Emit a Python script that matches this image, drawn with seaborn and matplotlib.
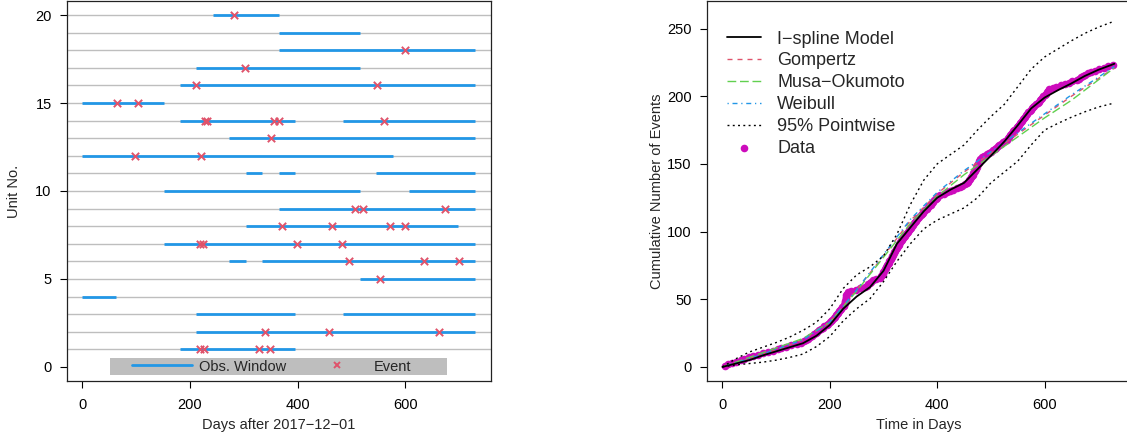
import numpy as np
import matplotlib
matplotlib.use("Agg")
import matplotlib.pyplot as plt
import seaborn as sns
from matplotlib.lines import Line2D
from matplotlib.patches import Rectangle

sns.set_theme(style="ticks")
plt.rcParams["font.family"] = ["Liberation Sans", "DejaVu Sans"]
plt.rcParams["font.size"] = 10

# 颜色 (R4 palette)
blue = "#2297E6"
red = "#DF536B"
green = "#61D04F"
magenta = "#CD0BBC"

# ---- left panel: observation windows and events per unit ----
units = list(range(1, 21))
win_unit = [20, 19, 18, 17, 16, 15, 14, 14, 13, 12, 11, 11, 11, 10, 10, 9, 8, 7, 6, 6, 5, 4, 3, 3, 2, 1]
win_start = [243, 365, 365, 212, 181, 0, 181, 485, 273, 0, 304, 365, 546, 151, 608, 365, 304, 151, 273, 334,
             516, 0, 212, 485, 212, 181]
win_end = [365, 516, 730, 516, 730, 151, 396, 730, 730, 577, 334, 396, 730, 516, 730, 730, 699, 730, 304, 730,
           730, 62, 396, 730, 730, 396]

ev_unit = [20, 18, 17, 16, 16, 15, 15, 14, 14, 14, 14, 14, 13, 12, 12, 9, 9, 9, 8, 8, 8, 8,
           7, 7, 7, 7, 6, 6, 6, 5, 2, 2, 2, 1, 1, 1, 1]
ev_day = [282, 599, 303, 211, 548, 64, 103, 228, 231, 357, 365, 561, 351, 97, 220, 507, 521, 675, 371, 465, 572, 600,
          218, 224, 399, 483, 495, 636, 700, 553, 339, 459, 663, 218, 227, 329, 348]

# ---- right panel: cumulative events and fitted curves ----
event_days = [4, 10, 18, 26, 35, 40, 50, 57, 66, 75, 85, 95,
              103, 110, 119, 128, 138, 147,
              152, 156, 160, 163, 166, 170, 174, 177, 180, 184, 187, 190, 194, 197, 200,
              202, 205, 207, 209, 211, 213, 215, 217, 219, 221, 223,
              226, 227, 228, 228.5, 229, 229.5, 230, 230.5, 231, 232, 233,
              240, 248, 256, 266, 270, 272, 274, 276, 280, 286, 293,
              296, 297.5, 299, 300, 301.5, 303, 304, 305.5, 307, 308, 309.5, 311, 312, 313.5, 315, 316, 317.5,
              319, 320.5, 322, 323.5, 325, 326.5, 328, 329.5, 331, 333, 334.5, 336, 338, 340, 341.5, 343, 345,
              347, 349, 351, 353, 355, 357, 359, 361, 363, 365, 367, 369, 371, 373, 375.5, 378, 380.5, 383,
              385.5, 388, 390.5, 393, 395, 397, 399, 401,
              406, 412, 418, 424, 430, 436, 442, 447, 451, 455,
              457, 459, 461, 463, 464.5, 466, 467.5, 469, 470.5, 472, 473, 474, 475, 476, 477, 478, 479, 480,
              484, 488, 492, 496, 500, 504, 507, 510, 513, 516, 519, 522, 526, 530,
              532, 534, 536, 538, 540, 542, 544, 546, 548, 550, 552, 554, 556, 558, 560, 562, 564, 566, 568,
              570, 572, 574, 576, 578,
              581, 584, 587, 590, 592, 594, 596, 598, 600, 602, 604, 606, 608,
              615, 622, 630, 638, 645, 652, 660,
              664, 668, 672, 676, 680, 686,
              694, 702, 710, 718, 728]
event_count = np.arange(1, len(event_days) + 1)

fit_days = [0, 25, 50, 75, 100, 125, 150, 175, 200, 225, 250, 275, 300, 325, 350, 375, 400, 425, 450, 475,
            500, 525, 550, 575, 600, 625, 650, 675, 700, 730]
ispline = [0, 2.5, 5, 8.5, 11.5, 14.5, 17.5, 23, 31, 43, 52, 59, 71, 91, 103, 115, 125, 131, 136, 146,
           156, 166.5, 178.5, 191, 199, 204.5, 209.5, 215, 219.5, 224]
upper = [0, 6, 11, 14.5, 18, 22, 27, 33, 43, 58, 68, 74, 82, 98, 120, 138, 150, 157, 164, 175,
         185, 194, 207, 220, 229, 235, 241, 246.5, 251, 255.5]
lower = [0, 1.5, 2.5, 3.5, 5, 7, 9.5, 15, 22.5, 34, 43, 50.5, 63, 78, 91, 102, 108.5, 113, 117.5, 125,
         136, 144, 152, 164, 175, 180, 184.5, 188.5, 192, 195]

par_days = [0, 50, 100, 150, 200, 250, 300, 350, 400, 450, 500, 550, 600, 650, 700, 730]
gompertz = [0, 6, 12.5, 20, 33, 57, 82, 108, 128, 144, 158, 172, 186, 200, 213, 221]
musa = [0, 7, 14, 21, 33, 56, 81, 106, 126, 142, 156, 170, 184, 197, 212, 221]
weibull = [0, 6, 13, 20, 33, 57, 83, 109, 129, 145, 159, 173, 187, 201, 214, 222]

fig = plt.figure(figsize=(11.27, 4.44), dpi=100)
ax1 = fig.add_axes([0.0592, 0.1419, 0.3762, 0.8559])
ax2 = fig.add_axes([0.6271, 0.1419, 0.3756, 0.8559])

# 左图
for u in units:
    ax1.axhline(u, color="#BEBEBE", lw=1, zorder=1)
ax1.hlines(win_unit, win_start, win_end, color=blue, lw=2, zorder=2)
sns.scatterplot(x=ev_day, y=ev_unit, marker="x", color=red, s=28, linewidth=1.4, ax=ax1, zorder=3)
ax1.set_xlim(-29.2, 759.2)
ax1.set_ylim(-0.8, 20.8)
ax1.set_xticks([0, 200, 400, 600])
ax1.set_yticks([0, 5, 10, 15, 20])
ax1.set_xlabel("Days after 2017\u221212\u221201", fontsize=10.5)
ax1.set_ylabel("Unit No.", fontsize=10.5)
ax1.xaxis.set_label_coords(0.5, -0.098)
ax1.yaxis.set_label_coords(-0.109, 0.5)

ax1.add_patch(Rectangle((52, -0.47), 626, 1.0, facecolor="#BEBEBE", edgecolor="none", zorder=4))
h1 = [Line2D([], [], color=blue, lw=2), Line2D([], [], color=red, marker="x", ls="none", ms=5, mew=1.4)]
ax1.legend(h1, ["Obs. Window", "Event"], ncol=2, frameon=False, loc="center",
           bbox_to_anchor=(352, 0.02), bbox_transform=ax1.transData, handlelength=4.1,
           handletextpad=0.5, columnspacing=1.4, fontsize=10.5).set_zorder(5)

# 右图
sns.scatterplot(x=event_days, y=event_count, color=magenta, s=30, linewidth=0, ax=ax2, zorder=2, label="Data")
sns.lineplot(x=fit_days, y=ispline, color="black", lw=1.3, ax=ax2, label="I\u2212spline Model", zorder=4)
sns.lineplot(x=par_days, y=gompertz, color=red, lw=1, ax=ax2, label="Gompertz", zorder=3,
             linestyle=(0, (3.6, 3.6)))
sns.lineplot(x=par_days, y=musa, color=green, lw=1, ax=ax2, label="Musa\u2212Okumoto", zorder=3,
             linestyle=(0, (6.3, 2.7)))
sns.lineplot(x=par_days, y=weibull, color=blue, lw=1, ax=ax2, label="Weibull", zorder=3,
             linestyle=(0, (0.9, 2.7, 3.6, 2.7)))
sns.lineplot(x=fit_days, y=upper, color="black", lw=1, ax=ax2, label="95% Pointwise", zorder=3,
             linestyle=(0, (1.4, 2.4)))
sns.lineplot(x=fit_days, y=lower, color="black", lw=1, ax=ax2, label="_nolegend_", zorder=3,
             linestyle=(0, (1.4, 2.4)))
ax2.set_xlim(-29.2, 759.2)
ax2.set_ylim(-10.4, 270.4)
ax2.set_xticks([0, 200, 400, 600])
ax2.set_yticks([0, 50, 100, 150, 200, 250])
ax2.set_xlabel("Time in Days", fontsize=10.5)
ax2.set_ylabel("Cumulative Number of Events", fontsize=10.5)
ax2.xaxis.set_label_coords(0.5, -0.098)
ax2.yaxis.set_label_coords(-0.101, 0.5)

handles, labels = ax2.get_legend_handles_labels()
order = ["I\u2212spline Model", "Gompertz", "Musa\u2212Okumoto", "Weibull", "95% Pointwise", "Data"]
hmap = dict(zip(labels, handles))
ax2.legend([hmap[k] for k in order], order, loc="upper left", bbox_to_anchor=(0.047, 0.922),
           frameon=False, fontsize=13, handlelength=1.9, handletextpad=0.9, labelspacing=0.27,
           borderaxespad=0, borderpad=0)

for ax in (ax1, ax2):
    for s in ax.spines.values():
        s.set_color("#222222")
        s.set_linewidth(0.9)
    ax.tick_params(length=5.3, width=0.8, pad=5.5, labelsize=10.5, color="black", labelcolor="black")
    ax.tick_params(axis="x", pad=7)

fig.savefig("out.png", dpi=100)
